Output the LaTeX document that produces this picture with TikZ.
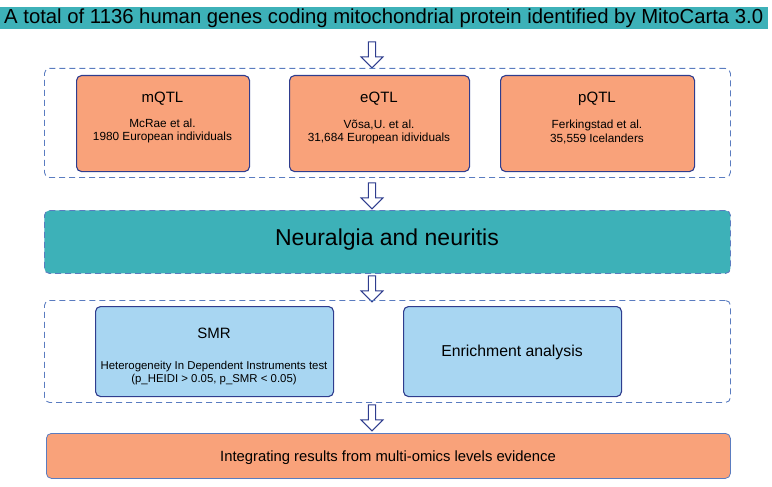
\documentclass[tikz,border=0pt]{standalone}
\usepackage{fontspec}
\setmainfont{Liberation Sans}
\usetikzlibrary{shapes.arrows}
\definecolor{teal1}{HTML}{3DB1B8}
\definecolor{orng}{HTML}{F9A27A}
\definecolor{lblue}{HTML}{A8D6F2}
\definecolor{dblue}{HTML}{2F3D8E}
\definecolor{dash}{HTML}{5A7CC0}
\begin{document}
\begin{tikzpicture}[x=1pt,y=-1pt,
  box/.style={draw=dblue,line width=1.1pt,rounded corners=5pt,align=center,anchor=north west,inner sep=0pt},
  grp/.style={draw=dash,line width=0.9pt,dash pattern=on 6pt off 4pt,rounded corners=5pt,anchor=north west,inner sep=0pt},
  harrow/.style={single arrow,draw=dblue,fill=white,line width=1pt,shape border rotate=270,minimum height=26pt,minimum width=22pt,single arrow head extend=5pt,single arrow tip angle=90,inner sep=2pt}]
\useasboundingbox (0,0) rectangle (772,487);
\fill[teal1] (0,7) rectangle (768,29);
\node[anchor=west,inner sep=0pt,font=\fontsize{20.3}{23}\selectfont] (title) at (4,18) {A total of 1136 human genes coding mitochondrial protein identified by MitoCarta 3.0};
\node[harrow] (a1) at (372,53) {};
\node[grp,minimum width=686pt,minimum height=109pt] (g1) at (44,68) {};
\node[box,fill=orng,minimum width=173pt,minimum height=96pt] (m) at (76,75) {};
\node[box,fill=orng,minimum width=180pt,minimum height=96pt] (e) at (289,75) {};
\node[box,fill=orng,minimum width=194pt,minimum height=96pt] (p) at (500,75) {};
\node[font=\fontsize{15}{17}\selectfont] (mt) at (162.5,99) {mQTL};
\node[font=\fontsize{11.8}{13.5}\selectfont,align=center] (ms) at (162.5,131) {McRae et al.\\1980 European individuals};
\node[font=\fontsize{15}{17}\selectfont] (et) at (379,99) {eQTL};
\node[font=\fontsize{11.8}{13.5}\selectfont,align=center] (es) at (379,132) {Võsa,U. et al.\\31,684 European idividuals};
\node[font=\fontsize{15}{17}\selectfont] (pt) at (597,99) {pQTL};
\node[font=\fontsize{11.8}{13.5}\selectfont,align=center] (ps) at (597,132) {Ferkingstad et al.\\35,559 Icelanders};
\node[harrow] (a2) at (372,194) {};
\node[grp,fill=teal1,minimum width=686pt,minimum height=63pt] (n) at (44,210) {};
\node[font=\fontsize{23}{26}\selectfont] (nt) at (387,240) {Neuralgia and neuritis};
\node[harrow] (a3) at (372,287) {};
\node[grp,minimum width=686pt,minimum height=102pt] (g3) at (44,300) {};
\node[box,fill=lblue,minimum width=238pt,minimum height=90pt] (s) at (95,306) {};
\node[font=\fontsize{15}{17}\selectfont] (st) at (214,333) {SMR};
\node[font=\fontsize{11.4}{13.5}\selectfont,align=center] (ss) at (214,373) {Heterogeneity In Dependent Instruments test\\(p\_HEIDI > 0.05, p\_SMR < 0.05)};
\node[box,fill=lblue,minimum width=218pt,minimum height=90pt] (en) at (403,306) {};
\node[font=\fontsize{15.8}{18}\selectfont] (ent) at (512,352) {Enrichment analysis};
\node[harrow] (a4) at (372,416) {};
\node[box,draw=dash,line width=0.8pt,fill=orng,minimum width=684pt,minimum height=45pt] (f) at (46,433) {};
\node[font=\fontsize{14.8}{17}\selectfont] (ft) at (388,458) {Integrating results from multi-omics levels evidence};
\end{tikzpicture}
\end{document}
